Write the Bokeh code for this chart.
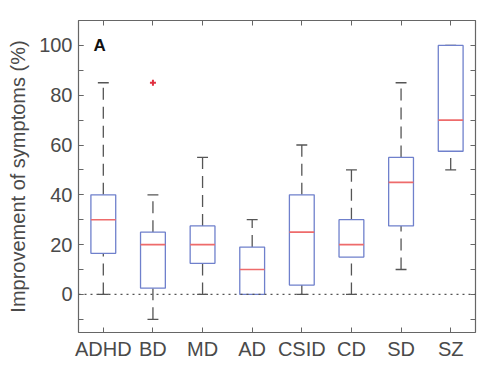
from bokeh.plotting import figure
from bokeh.models import FixedTicker, LinearAxis, Span, ColumnDataSource, Label
from bokeh.embed import file_html
from bokeh.resources import INLINE

categories = ["ADHD", "BD", "MD", "AD", "CSID", "CD", "SD", "SZ"]
whisker_low = [0, -10, 0, 0, 0, 0, 10, 50]
q1 = [16.5, 2.5, 12.5, 0, 3.75, 15, 27.5, 57.5]
median = [30, 20, 20, 10, 25, 20, 45, 70]
q3 = [40, 25, 27.5, 19, 40, 30, 55, 100]
whisker_high = [85, 40, 55, 30, 60, 50, 85, 100]
outlier_cat = ["BD"]
outlier_val = [85]
y_ticks = [0, 20, 40, 60, 80, 100]
y_minor = [-10, 0, 10, 20, 30, 40, 50, 60, 70, 80, 90, 100, 110]

FONT = "Liberation Sans"
TXT = "#4a4a4a"
AX = "#666666"

xs = [i + 1 for i in range(len(categories))]
box_w = 0.5
cap_w = 0.22

src = ColumnDataSource(dict(
    x=xs, lo=whisker_low, q1=q1, med=median, q3=q3, hi=whisker_high,
    cl=[x - cap_w / 2 for x in xs], cr=[x + cap_w / 2 for x in xs],
    bl=[x - box_w / 2 for x in xs], br=[x + box_w / 2 for x in xs],
))

p = figure(width=480, height=364, x_range=(0.5, 8.5), y_range=(-15.3, 110),
           output_backend="svg", toolbar_location=None,
           min_border_left=78, min_border_right=5, min_border_top=20, min_border_bottom=32)
p.xgrid.visible = False
p.ygrid.visible = False
p.outline_line_color = AX
p.outline_line_width = 1.2
p.background_fill_color = "white"
p.border_fill_color = "white"

# zero dotted line
p.add_layout(Span(location=0, dimension="width", line_color="#555555",
                  line_dash="2 4", line_width=1.2))

# whiskers
p.segment(x0="x", y0="q3", x1="x", y1="hi", source=src, line_color="#555555",
          line_dash="12 7", line_width=1.3)
p.segment(x0="x", y0="lo", x1="x", y1="q1", source=src, line_color="#555555",
          line_dash="12 7", line_width=1.3)
p.segment(x0="cl", y0="hi", x1="cr", y1="hi", source=src, line_color="#555555", line_width=1.3)
p.segment(x0="cl", y0="lo", x1="cr", y1="lo", source=src, line_color="#555555", line_width=1.3)

# boxes
p.quad(left="bl", right="br", bottom="q1", top="q3", source=src,
       fill_color="white", line_color="#6f80cc", line_width=1.3)
p.segment(x0="bl", y0="med", x1="br", y1="med", source=src, line_color="#ee6b6b", line_width=1.6)

# outliers
ox = [xs[categories.index(c)] for c in outlier_cat]
p.scatter(ox, outlier_val, marker="cross", size=6, line_color="#e03040", line_width=2)

# axes
p.xaxis.ticker = FixedTicker(ticks=xs)
p.xaxis.major_label_overrides = {x: c for x, c in zip(xs, categories)}
p.yaxis.ticker = FixedTicker(ticks=y_ticks, minor_ticks=y_minor)
p.yaxis.axis_label = "Improvement of symptoms (%)"

for ax in (p.xaxis[0], p.yaxis[0]):
    ax.axis_line_color = None
    ax.major_tick_in = 5
    ax.major_tick_out = 0
    ax.minor_tick_in = 5
    ax.minor_tick_out = 0
    ax.major_tick_line_color = AX
    ax.minor_tick_line_color = AX
    ax.major_label_text_font = FONT
    ax.major_label_text_font_size = "20px"
    ax.major_label_text_color = TXT
    ax.axis_label_text_font = FONT
    ax.axis_label_text_font_size = "20px"
    ax.axis_label_text_font_style = "normal"
    ax.axis_label_text_color = TXT
p.xaxis.minor_tick_line_color = None
p.xaxis.major_label_standoff = 5
p.yaxis.major_label_standoff = 6
p.yaxis.axis_label_standoff = 7

top = LinearAxis(ticker=FixedTicker(ticks=xs),
                 major_label_overrides={x: "" for x in xs},
                 axis_line_color=None, major_tick_in=5, major_tick_out=0,
                 major_label_standoff=0,
                 major_tick_line_color=AX, minor_tick_line_color=None)
right = LinearAxis(ticker=FixedTicker(ticks=y_minor),
                   major_label_overrides={y: "" for y in y_minor},
                   axis_line_color=None, major_tick_in=5, major_tick_out=0,
                   major_label_standoff=0,
                   major_tick_line_color=AX, minor_tick_line_color=None)
p.add_layout(top, "above")
p.add_layout(right, "right")

p.add_layout(Label(x=0.8, y=100, text="A", text_font=FONT, text_font_size="17px",
                   text_font_style="bold", text_color="#111111",
                   text_align="left", text_baseline="middle"))

open("out.html", "w").write(file_html(p, INLINE))
